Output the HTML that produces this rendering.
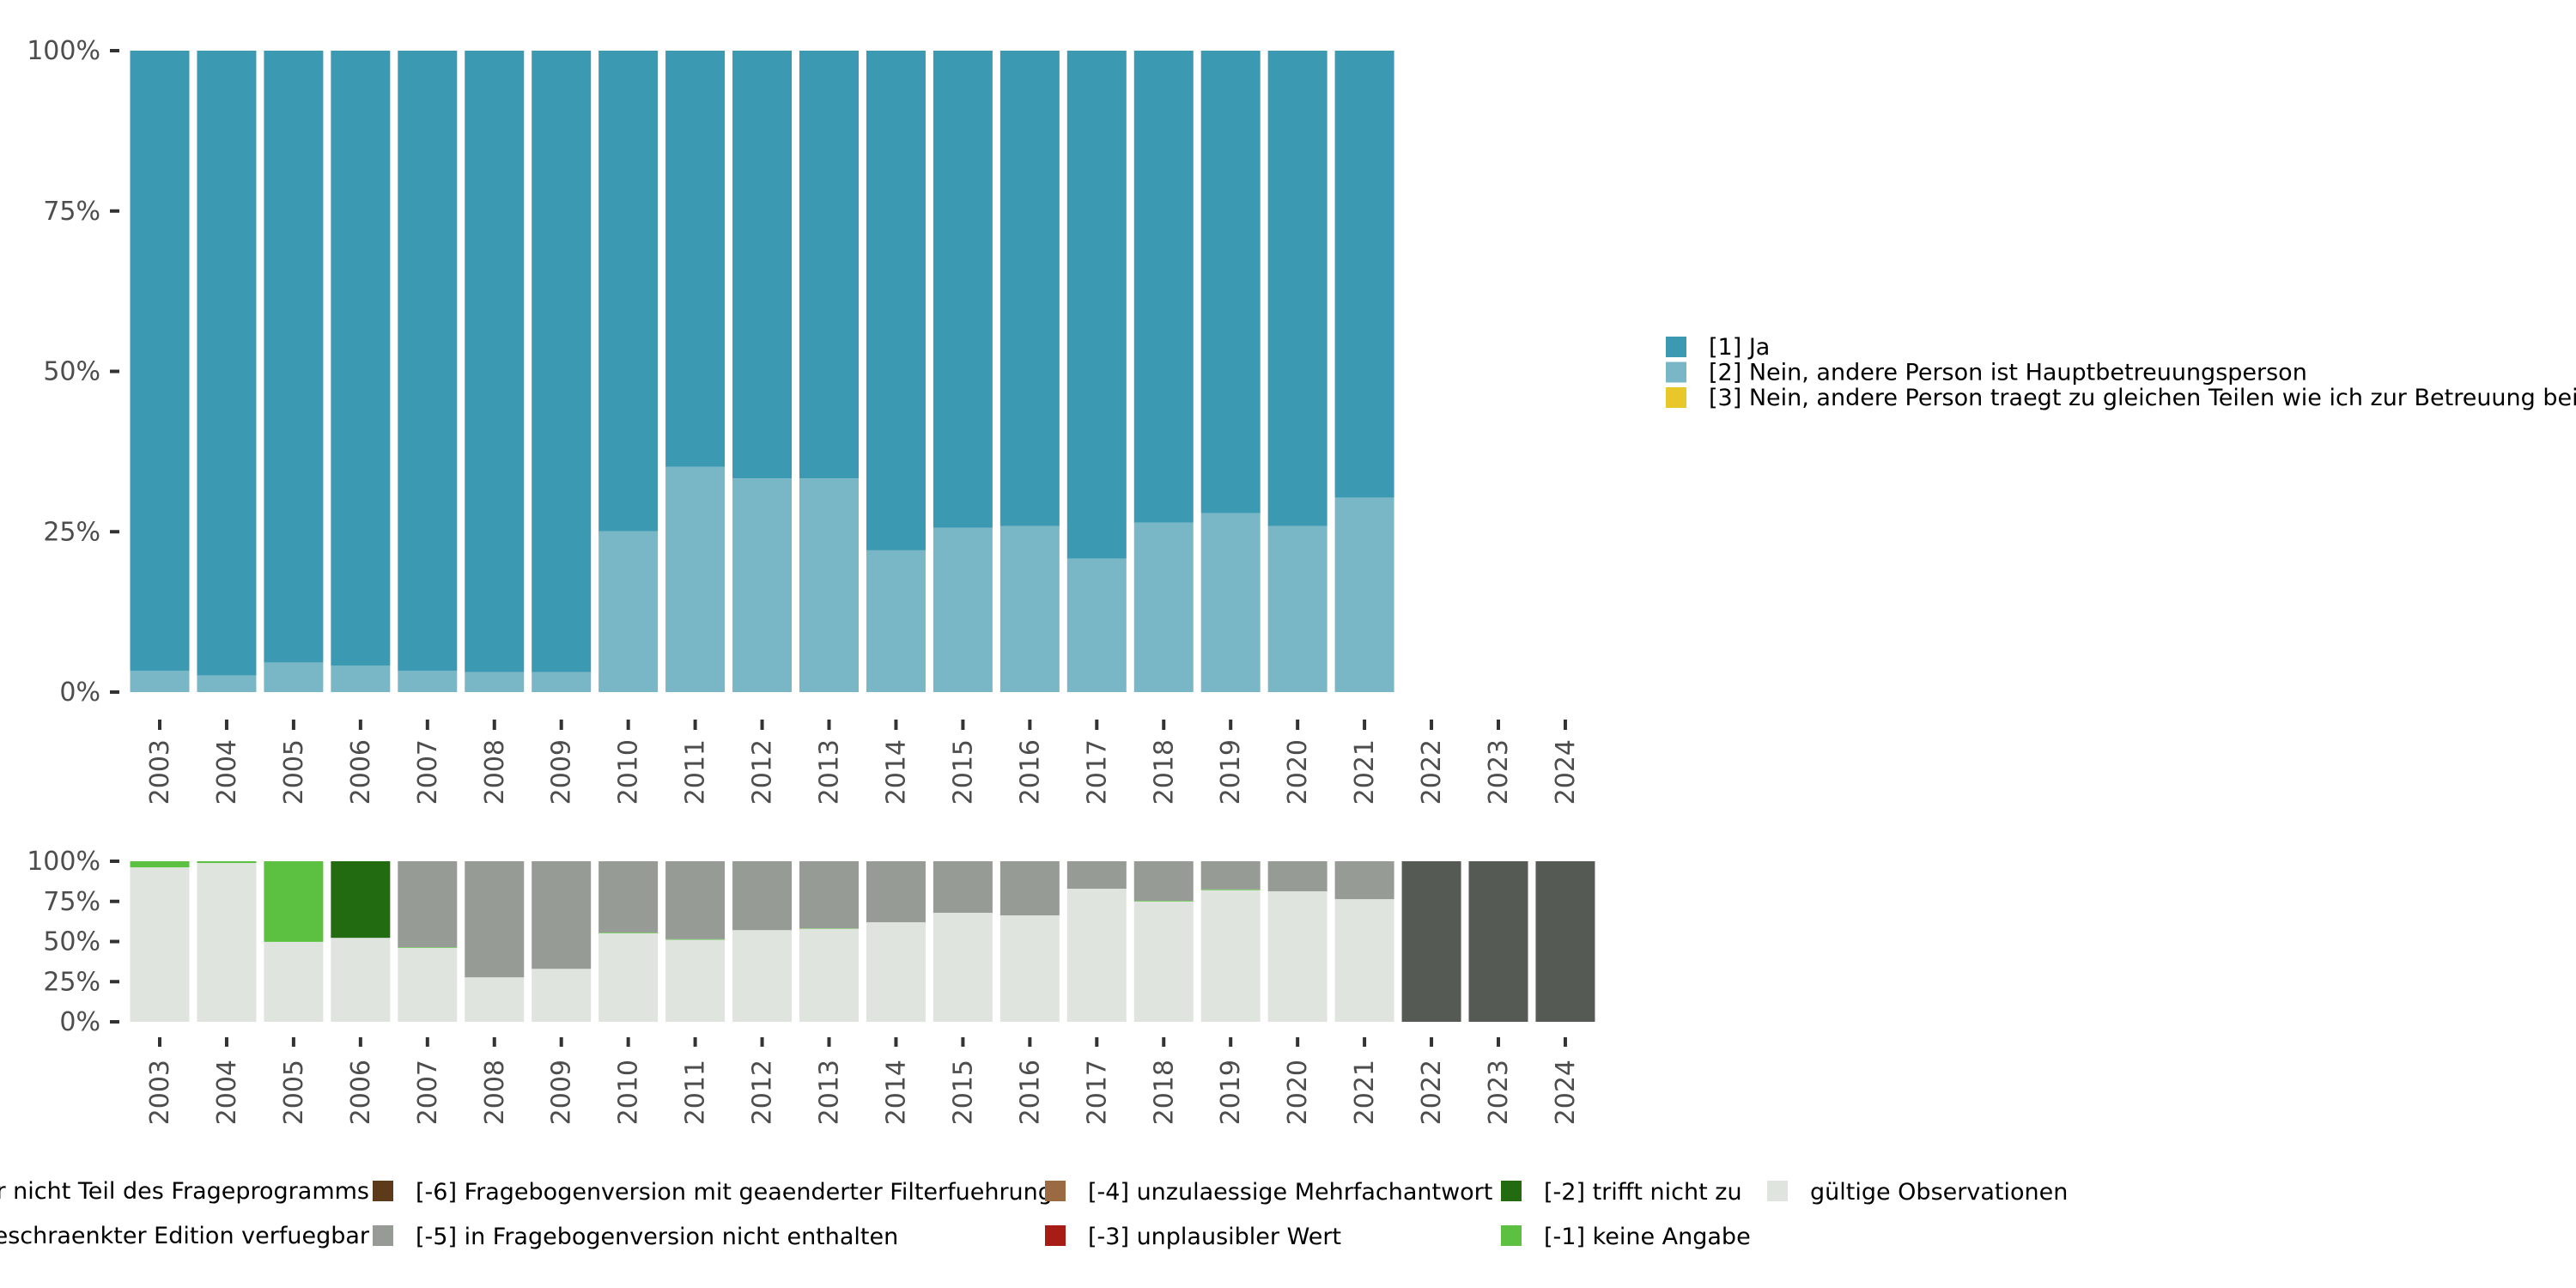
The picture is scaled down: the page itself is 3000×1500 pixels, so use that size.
<!DOCTYPE html>
<html><head><meta charset="utf-8"><style>
html,body{margin:0;padding:0;background:#fff;width:3000px;height:1500px;overflow:hidden}
svg{display:block}
text{font-family:"DejaVu Sans","Liberation Sans",sans-serif}
</style></head><body>
<svg id="chart" width="3000" height="1500" viewBox="0 0 3000 1500" xmlns="http://www.w3.org/2000/svg">
<g id="top"></g>
<g id="bottom"></g>
<g id="legend-right"></g>
<g id="legend-bottom"></g>
</svg>
<script>
const years = ["2003","2004","2005","2006","2007","2008","2009","2010","2011","2012","2013","2014","2015","2016","2017","2018","2019","2020","2021","2022","2023","2024"];
// top chart: share of [2] (rest is [1] Ja); null = no data
const nein = [3.3,2.6,4.6,4.1,3.3,3.1,3.1,25.1,35.1,33.3,33.3,22.1,25.6,25.9,20.8,26.4,27.9,25.9,30.3,null,null,null];
// bottom chart shares (percent)
const valid   = [96.2,98.9,49.8,52.3,46.1,27.7,33.0,55.2,51.1,57.1,57.9,62.0,67.9,66.3,82.9,75.0,82.0,81.3,76.4,0,0,0];
const keine   = [3.8,1.1,50.2,0,0.4,0,0,0.4,0.4,0,0.3,0,0,0,0,0.4,0.5,0,0,0,0,0];
const trifft  = [0,0,0,47.7,0,0,0,0,0,0,0,0,0,0,0,0,0,0,0,0,0,0];
const notInVersion = [0,0,0,0,53.5,72.3,67.0,44.4,48.5,42.9,41.8,38.0,32.1,33.7,17.1,24.6,17.5,18.7,23.6,0,0,0];
const notPart = [0,0,0,0,0,0,0,0,0,0,0,0,0,0,0,0,0,0,0,100,100,100];
const yTicks = [0,25,50,75,100];
const yTickLabels = ["0%","25%","50%","75%","100%"];

const NS="http://www.w3.org/2000/svg";
function mk(tag,attrs,parent,txt){const e=document.createElementNS(NS,tag);for(const k in attrs)e.setAttribute(k,attrs[k]);if(txt!==undefined)e.textContent=txt;parent.appendChild(e);return e;}
const step=77.95, x0=186, bw=69;
function xc(i){return x0+step*i;}

function axes(g, y0, y100, tickY0, tickY1, labY, fs, prefix){
  const ys=v=>y0+(y100-y0)*v/100;
  yTicks.forEach((t,k)=>{
    const l=mk('line',{x1:128,x2:139,y1:ys(t),y2:ys(t),stroke:'#333','stroke-width':4},g);
    
    
    const tx=mk('text',{x:117,y:ys(t)+10,'text-anchor':'end','font-size':fs,fill:'#4d4d4d'},g,yTickLabels[k]);
    
    
  });
  years.forEach((yr,i)=>{
    const l=mk('line',{x1:xc(i),x2:xc(i),y1:tickY0,y2:tickY1,stroke:'#333','stroke-width':4},g);
    
    
    const tx=mk('text',{x:0,y:0,transform:`translate(${xc(i)+10},${labY}) rotate(-90)`,'text-anchor':'end','font-size':fs,fill:'#4d4d4d'},g,yr);
    
    
  });
  return ys;
}

// top
const gt=document.getElementById('top');
const ysT=axes(gt,806,59,838,850,861,30,'top');
years.forEach((yr,i)=>{
  if(nein[i]===null)return;
  const x=xc(i)-bw/2;
  const r1=mk('rect',{x:x,y:ysT(100),width:bw,height:ysT(nein[i])-ysT(100),fill:'#3b99b1'},gt);
  
  
  const r2=mk('rect',{x:x,y:ysT(nein[i]),width:bw,height:ysT(0)-ysT(nein[i]),fill:'#79b7c7'},gt);
  
  
});

// bottom
const gb=document.getElementById('bottom');
const ysB=axes(gb,1190,1003,1208,1219,1234,30,'bottom');
const series=[[valid,'#e0e4df','valid'],[keine,'#5cc040','keine-angabe'],[trifft,'#226b10','trifft-nicht-zu'],[notInVersion,'#979b95','nicht-enthalten'],[notPart,'#555b54','nicht-teil']];
years.forEach((yr,i)=>{
  let acc=0;
  series.forEach(([arr,col,nm])=>{
    const v=arr[i]; if(!v)return;
    const r=mk('rect',{x:xc(i)-bw/2,y:ysB(acc+v),width:bw,height:ysB(acc)-ysB(acc+v),fill:col},gb);
    
    
    acc+=v;
  });
});

// right legend
const lr=document.getElementById('legend-right');
[["[1] Ja","#3b99b1"],["[2] Nein, andere Person ist Hauptbetreuungsperson","#79b7c7"],["[3] Nein, andere Person traegt zu gleichen Teilen wie ich zur Betreuung bei","#e8c72a"]].forEach(([t,c],k)=>{
  const y=404+k*29.5;
  const r=mk('rect',{x:1940,y:y-12,width:24,height:24,fill:c},lr);
  
  
  const tx=mk('text',{x:1990,y:y+9,'font-size':27,fill:'#000'},lr,t);
  
  
});

// bottom legend
const lb=document.getElementById('legend-bottom');
const t1=mk('text',{x:430,y:1396,'text-anchor':'end','font-size':27,fill:'#000'},lb,"[-8] Frage in diesem Jahr nicht Teil des Frageprogramms");


const t2=mk('text',{x:430,y:1448,'text-anchor':'end','font-size':27,fill:'#000'},lb,"[-7] nur in weniger eingeschraenkter Edition verfuegbar");


const items=[
 [434,1387,'#5c3a1a',"[-6] Fragebogenversion mit geaenderter Filterfuehrung"],
 [434,1439,'#979b95',"[-5] in Fragebogenversion nicht enthalten"],
 [1217,1387,'#9a6b43',"[-4] unzulaessige Mehrfachantwort"],
 [1217,1439,'#a81c16',"[-3] unplausibler Wert"],
 [1748,1387,'#226b10',"[-2] trifft nicht zu"],
 [1748,1439,'#5cc040',"[-1] keine Angabe"],
 [2058,1387,'#e0e4df',"gültige Observationen"]];
items.forEach(([x,y,c,t])=>{
  const r=mk('rect',{x:x,y:y-12,width:24,height:24,fill:c},lb);
  
  
  const tx=mk('text',{x:x+50,y:y+10,'font-size':27,fill:'#000'},lb,t);
  
  
});
</script>
</body></html>
